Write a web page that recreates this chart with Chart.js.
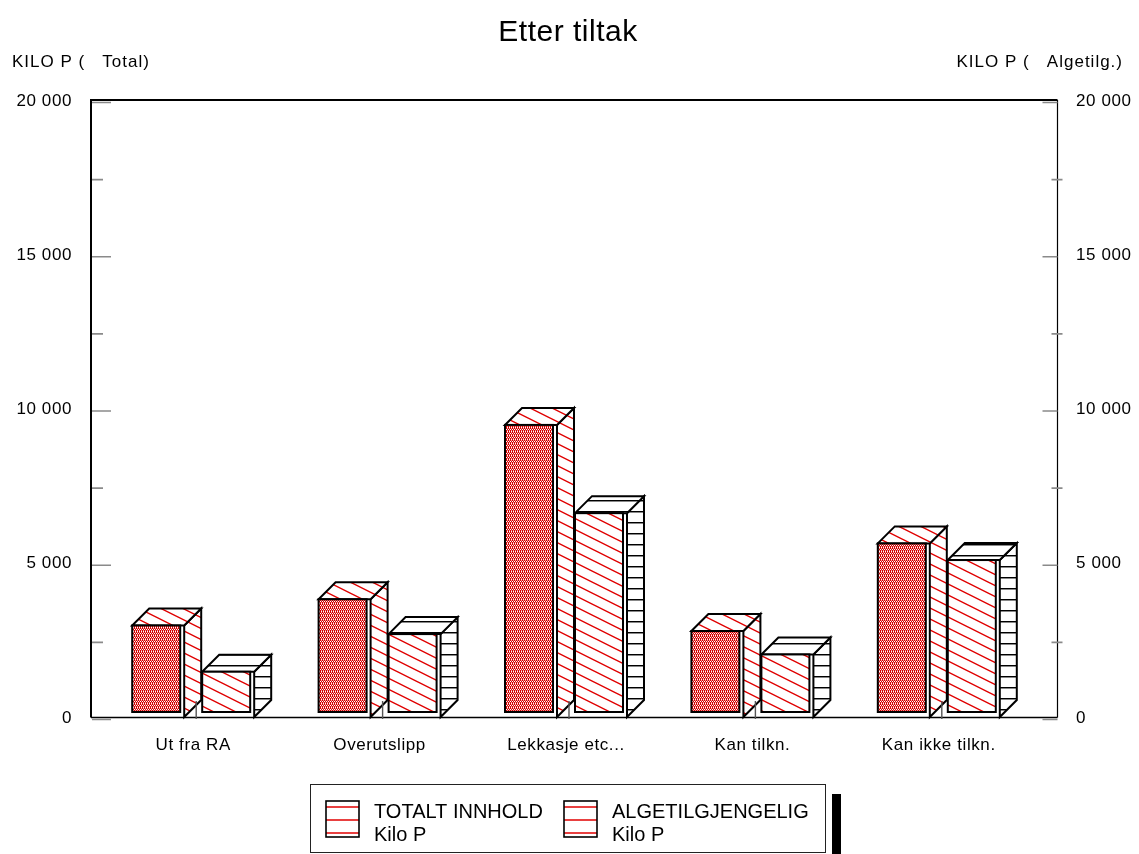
<!DOCTYPE html>
<html>
<head>
<meta charset="utf-8">
<script src="https://cdn.jsdelivr.net/npm/chart.js@4/dist/chart.umd.min.js"></script>
<style>
  html, body { margin: 0; padding: 0; background: #fff; }
  canvas { display: block; }
</style>
</head>
<body>
<canvas id="chart" width="1139" height="854"></canvas>
<script>
// ---- data ----
const categories = ['Ut fra RA', 'Overutslipp', 'Lekkasje etc...', 'Kan tilkn.', 'Kan ikke tilkn.'];
const totaltInnhold = [3000, 3850, 9500, 2820, 5660];
const algetilgjengelig = [1500, 2720, 6640, 2060, 5120];
const seriesLabels = [['TOTALT INNHOLD', 'Kilo P'], ['ALGETILGJENGELIG', 'Kilo P']];
const yMin = 0, yMax = 20000, yStep = 5000, yMinorStep = 2500;
const chartTitle = 'Etter tiltak';
const leftAxisTitle = 'KILO P (   Total)';
const rightAxisTitle = 'KILO P (   Algetilg.)';

const FONT = "'Liberation Sans', Arial, sans-serif";
const DEPTH = 17;

function fmt(v) {
  return String(v).replace(/\B(?=(\d{3})+(?!\d))/g, ' ');
}

// ---- fill patterns ----
function tile(w, h, draw) {
  const c = document.createElement('canvas');
  c.width = w; c.height = h;
  draw(c.getContext('2d'), w, h);
  return c;
}
const crossTile = tile(4, 4, g => {
  const R = '#d40000', W = '#ffffff', P = '#f08c8c';
  const rows = [
    [R, P, R, P],
    [W, R, W, R],
    [R, P, R, P],
    [R, W, R, W]
  ];
  rows.forEach((row, y) => row.forEach((col, x) => { g.fillStyle = col; g.fillRect(x, y, 1, 1); }));
});
const diagTile = tile(22, 11, g => {
  g.fillStyle = '#fff'; g.fillRect(0, 0, 22, 11);
  g.strokeStyle = '#e00000'; g.lineWidth = 1.4;
  g.beginPath();
  for (const c of [-11, 0, 11]) { g.moveTo(-2, c - 1); g.lineTo(24, c + 12); }
  g.stroke();
});
const hLineTile = tile(4, 11, g => {
  g.fillStyle = '#fff'; g.fillRect(0, 0, 4, 11);
  g.fillStyle = '#000'; g.fillRect(0, 5, 4, 1);
  g.fillStyle = '#888'; g.fillRect(0, 6, 4, 1);
});

const canvas = document.getElementById('chart');
const ctx = canvas.getContext('2d');
const pat = {
  cross: ctx.createPattern(crossTile, 'repeat'),
  diag: ctx.createPattern(diagTile, 'repeat'),
  hline: ctx.createPattern(hLineTile, 'repeat')
};
// front / side / top fills for each series
const faceFills = [
  { front: pat.cross, side: pat.diag, top: pat.diag },
  { front: pat.diag, side: pat.hline, top: pat.hline }
];

// ---- 3D boxes, frame and ticks ----
const boxPlugin = {
  id: 'boxes3d',
  beforeDraw(chart) {
    chart.ctx.letterSpacing = '0.6px';
  },
  afterDatasetsDraw(chart) {
    const c = chart.ctx;
    const area = chart.chartArea;
    const yS = chart.scales.y;
    const xS = chart.scales.x;
    c.save();
    c.letterSpacing = '0px';
    c.lineJoin = 'miter';

    chart.data.datasets.forEach((ds, di) => {
      const meta = chart.getDatasetMeta(di);
      const fills = faceFills[di];
      meta.data.forEach(el => {
        const p = el.getProps(['x', 'y', 'base', 'width'], true);
        const x0 = p.x - p.width / 2, x1 = p.x + p.width / 2;
        const top = p.y, bot = p.base - 1;
        const inRight = x1 - 4, inBot = p.base - 6;

        // front panel
        c.fillStyle = '#fff';
        c.fillRect(x0, top, x1 - x0, bot - top);

        // side face
        c.beginPath();
        c.moveTo(x1, top); c.lineTo(x1 + DEPTH, top - DEPTH);
        c.lineTo(x1 + DEPTH, bot - DEPTH); c.lineTo(x1, bot); c.closePath();
        c.fillStyle = fills.side; c.fill();
        c.lineWidth = 2; c.strokeStyle = '#000'; c.stroke();

        // top face
        c.beginPath();
        c.moveTo(x0, top); c.lineTo(x0 + DEPTH, top - DEPTH);
        c.lineTo(x1 + DEPTH, top - DEPTH); c.lineTo(x1, top); c.closePath();
        c.fillStyle = fills.top; c.fill();
        c.stroke();

        // patterned front
        c.fillStyle = fills.front;
        c.fillRect(x0, top, inRight - x0, inBot - top);
        c.lineWidth = 2;
        c.strokeRect(x0, top, inRight - x0, inBot - top);
      });
    });

    // frame
    const fl = area.left - 9, fr = area.right + 25.5;
    const ft = area.top - 1, fb = area.bottom - 0.5;
    c.strokeStyle = '#000';
    c.lineWidth = 2;
    c.beginPath();
    c.moveTo(fl, fb); c.lineTo(fl, ft); c.lineTo(fr, ft);
    c.stroke();
    c.lineWidth = 1.2;
    c.beginPath();
    c.moveTo(fr, ft); c.lineTo(fr, fb);
    c.stroke();
    c.lineWidth = 1.6;
    c.beginPath();
    c.moveTo(fl, fb); c.lineTo(fr, fb);
    c.stroke();

    // value ticks on both walls
    c.strokeStyle = '#8a8a8a';
    c.lineWidth = 1.6;
    for (let v = yMin; v <= yMax; v += yMinorStep) {
      const py = yS.getPixelForValue(v) + 1.5;
      const major = v % yStep === 0;
      c.beginPath();
      c.moveTo(fl + 1, py); c.lineTo(fl + (major ? 20 : 12), py);
      if (major) { c.moveTo(fr - 15, py); c.lineTo(fr, py); }
      else { c.moveTo(fr - 6, py); c.lineTo(fr + 5, py); }
      c.stroke();
    }

    // category ticks
    c.strokeStyle = '#555';
    c.lineWidth = 1.4;
    categories.forEach((_, i) => {
      const px = xS.getPixelForValue(i) + 3;
      c.beginPath();
      c.moveTo(px, area.bottom - 17); c.lineTo(px, area.bottom + 1);
      c.stroke();
    });
    c.restore();
  },
  afterDraw(chart) {
    const c = chart.ctx;
    c.save();
    c.fillStyle = '#000';
    c.textBaseline = 'alphabetic';

    // title
    c.letterSpacing = '0.5px';
    c.font = `30px ${FONT}`;
    c.textAlign = 'center';
    c.fillText(chartTitle, 568, 41);

    // axis headers
    c.letterSpacing = '1px';
    c.font = `17px ${FONT}`;
    c.textAlign = 'left';
    c.fillText(leftAxisTitle, 12, 67);
    c.textAlign = 'right';
    c.fillText(rightAxisTitle, 1123, 67);

    // legend
    c.letterSpacing = '0px';
    const bx = 310.5, by = 784.5, bw = 515, bh = 68;
    c.strokeStyle = '#222';
    c.lineWidth = 1;
    c.strokeRect(bx, by, bw, bh);
    c.fillStyle = '#000';
    c.fillRect(832, 794, 9, 60);

    const items = [{ ix: 326, tx: 374 }, { ix: 564, tx: 612 }];
    items.forEach((it, i) => {
      const iy = 801, iw = 33, ih = 36;
      c.fillStyle = '#fff';
      c.fillRect(it.ix, iy, iw, ih);
      c.strokeStyle = '#e00000';
      c.lineWidth = 1.5;
      [6, 19, 32].forEach(o => {
        c.beginPath(); c.moveTo(it.ix, iy + o); c.lineTo(it.ix + iw, iy + o); c.stroke();
      });
      c.strokeStyle = '#000';
      c.lineWidth = 1.6;
      c.strokeRect(it.ix, iy, iw, ih);
      c.fillStyle = '#000';
      c.font = `20px ${FONT}`;
      c.textAlign = 'left';
      c.fillText(seriesLabels[i][0], it.tx, 817.5);
      c.fillText(seriesLabels[i][1], it.tx, 840.5);
    });
    c.restore();
  }
};

const axisFont = { size: 17, family: FONT };

new Chart(canvas, {
  type: 'bar',
  data: {
    labels: categories,
    datasets: [
      {
        label: seriesLabels[0].join(' '),
        data: totaltInnhold,
        yAxisID: 'y',
        backgroundColor: 'rgba(0,0,0,0)',
        borderWidth: 0,
        categoryPercentage: 0.751,
        barPercentage: 0.743
      },
      {
        label: seriesLabels[1].join(' '),
        data: algetilgjengelig,
        yAxisID: 'y2',
        backgroundColor: 'rgba(0,0,0,0)',
        borderWidth: 0,
        categoryPercentage: 0.751,
        barPercentage: 0.743
      }
    ]
  },
  options: {
    responsive: false,
    devicePixelRatio: 1,
    animation: false,
    layout: { padding: { top: 101, left: 0, right: 0, bottom: 0 } },
    plugins: {
      legend: { display: false },
      title: { display: false },
      tooltip: { enabled: false }
    },
    scales: {
      x: {
        grid: { display: false, drawTicks: false },
        border: { display: false },
        ticks: { color: '#000', font: axisFont, padding: 17, maxRotation: 0, autoSkip: false },
        afterFit(s) { s.height = 136; }
      },
      y: {
        position: 'left',
        min: yMin, max: yMax,
        grid: { display: false, drawTicks: false },
        border: { display: false },
        ticks: { stepSize: yStep, color: '#000', font: axisFont, padding: 28, callback: v => fmt(v) },
        afterFit(s) { s.width = 100; }
      },
      y2: {
        position: 'right',
        min: yMin, max: yMax,
        grid: { display: false, drawTicks: false },
        border: { display: false },
        ticks: { stepSize: yStep, color: '#000', font: axisFont, padding: 44, callback: v => fmt(v) },
        afterFit(s) { s.width = 107; }
      }
    }
  },
  plugins: [boxPlugin]
});
</script>
</body>
</html>
